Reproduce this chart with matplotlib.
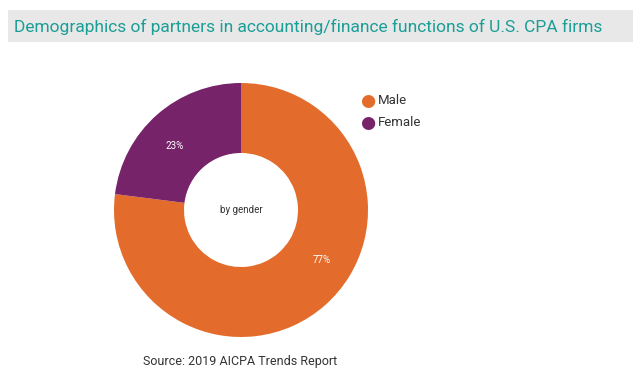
import matplotlib
matplotlib.use("Agg")
import matplotlib.pyplot as plt
from matplotlib.patches import Rectangle
import numpy as np

plt.rcParams['font.family'] = ['Roboto', 'DejaVu Sans']

title = "Demographics of partners in accounting/finance functions of U.S. CPA firms"
categories = ["Male", "Female"]
values = [77, 23]
colors = ["#E36C2C", "#76236A"]
center_label = "by gender"
source = "Source: 2019 AICPA Trends Report"

W, H = 643, 383
fig = plt.figure(figsize=(W / 100, H / 100), dpi=100)
fig.patch.set_facecolor("white")

# title banner
fig.patches.append(Rectangle((8 / W, 1 - 42 / H), 625 / W, 32 / H,
                             transform=fig.transFigure, facecolor="#E8E8E8",
                             edgecolor="none", zorder=0))
fig.text(14 / W, 1 - 26.5 / H, title, color="#1A9E96", fontsize=12.5,
         va="center", ha="left")

# donut
cx, cy, r = 241, 210, 127
ax = fig.add_axes([(cx - r) / W, (H - cy - r) / H, 2 * r / W, 2 * r / H])
wedges, texts, autotexts = ax.pie(values, colors=colors, startangle=90,
                                  counterclock=False, radius=1,
                                  autopct=lambda p: f"{p:.0f}%", pctdistance=0.73,
                                  wedgeprops=dict(width=1 - 57 / 127, edgecolor="none"),
                                  textprops=dict(color="white", fontsize=7))
# label placement as in reference
for t, a, d in zip(autotexts, [-32, 136], [0.75, 0.73]):
    ang = np.deg2rad(a)
    t.set_position((d * np.cos(ang), d * np.sin(ang)))
ax.text(0, 0, center_label, ha="center", va="center", fontsize=7, color="#333333")
ax.set_xlim(-1, 1)
ax.set_ylim(-1, 1)
ax.axis("off")

# legend
for i, (c, col) in enumerate(zip(categories, colors)):
    y = 1 - (101 + 22 * i) / H
    fig.text(368 / W, y, "\u25CF", color=col, fontsize=12.5, ha="center", va="center",
             family=['DejaVu Sans'])
    fig.text(378 / W, y, c, color="#333333", fontsize=9.5, ha="left", va="center")

fig.text(240 / W, 1 - 361 / H, source, color="#333333", fontsize=9,
         ha="center", va="center")

fig.savefig("out.png", dpi=100)
